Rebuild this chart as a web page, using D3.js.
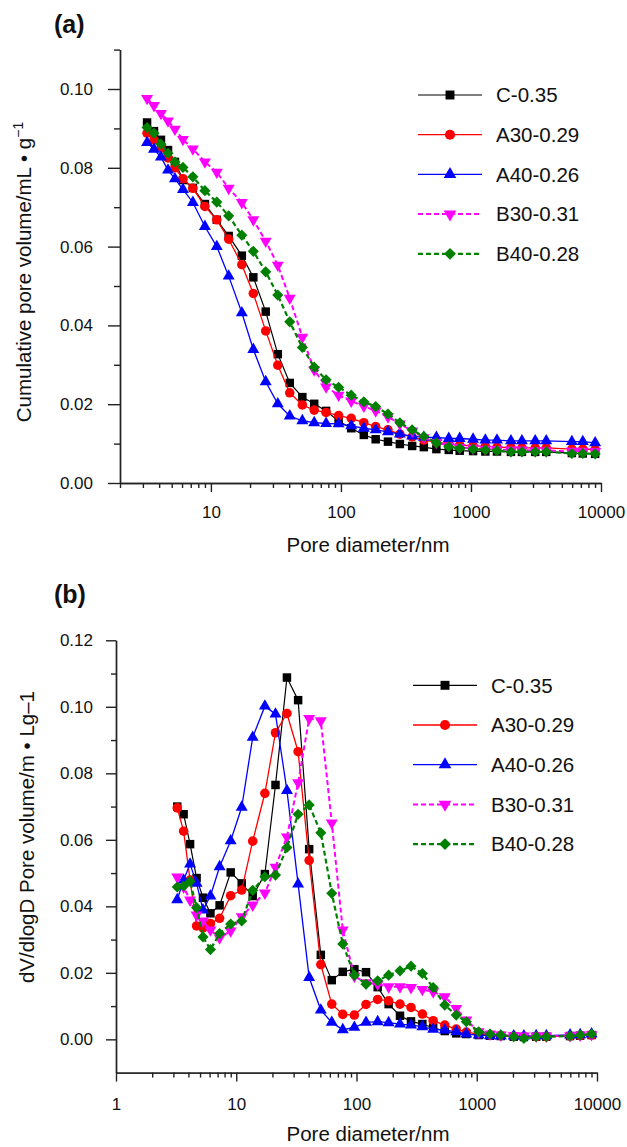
<!DOCTYPE html>
<html>
<head>
<meta charset="utf-8">
<script src="https://cdn.jsdelivr.net/npm/d3@7/dist/d3.min.js"></script>
<style>
  html, body { margin: 0; padding: 0; background: #fff; }
  svg { display: block; font-family: "Liberation Sans", Arial, Helvetica, sans-serif; }
  .axis path, .axis line { stroke: #222; stroke-width: 1.4; }
  .axis text { font-size: 17px; fill: #111; }
</style>
</head>
<body>
<div id="root"></div>
<script>
// pore diameters (nm), same intrusion steps for both panels
const diam = [3.23, 3.65, 4.13, 4.68, 5.29, 6.10, 7.27, 8.99, 11.1, 13.7, 17.3, 21.2, 26.4, 32.7, 40.4,
  50.5, 62.3, 76.9, 96, 120, 150, 185, 230, 284, 353, 434, 542, 675, 819, 1038, 1290, 1585, 2030,
  2466, 3120, 3793, 5970, 7244, 9016];

const seriesNames = ['C-0.35', 'A30-0.29', 'A40-0.26', 'B30-0.31', 'B40-0.28'];

// (a) cumulative pore volume, mL/g
const cumC   = [0.0915,0.0893,0.0871,0.0845,0.0815,0.0769,0.0749,0.0708,0.0668,0.0627,0.0577,0.0522,0.0435,0.0327,0.0254,0.0218,0.0201,0.0183,0.0157,0.0139,0.0122,0.0111,0.0105,0.0099,0.0094,0.0091,0.0086,0.0084,0.0082,0.0081,0.0080,0.0080,0.0079,0.0079,0.0079,0.0079,0.0076,0.0075,0.0074];
const cumA30 = [0.0888,0.0871,0.0850,0.0825,0.0800,0.0772,0.0748,0.0702,0.0668,0.0619,0.0554,0.0481,0.0386,0.0299,0.0229,0.0198,0.0185,0.0179,0.0171,0.0164,0.0153,0.0143,0.0135,0.0124,0.0117,0.0109,0.0104,0.0099,0.0096,0.0094,0.0093,0.0091,0.0090,0.0089,0.0089,0.0089,0.0086,0.0086,0.0085];
const cumA40 = [0.0864,0.0847,0.0827,0.0794,0.0772,0.0745,0.0712,0.0651,0.0600,0.0525,0.0432,0.0339,0.0257,0.0201,0.0170,0.0158,0.0153,0.0151,0.0150,0.0145,0.0139,0.0135,0.0130,0.0124,0.0119,0.0116,0.0116,0.0113,0.0113,0.0111,0.0109,0.0109,0.0107,0.0107,0.0107,0.0107,0.0105,0.0105,0.0102];
const cumB30 = [0.0976,0.0958,0.0938,0.0919,0.0898,0.0872,0.0848,0.0815,0.0789,0.0748,0.0712,0.0668,0.0614,0.0553,0.0469,0.0370,0.0287,0.0244,0.0223,0.0208,0.0195,0.0183,0.0168,0.0150,0.0132,0.0115,0.0103,0.0094,0.0090,0.0088,0.0086,0.0085,0.0084,0.0084,0.0082,0.0082,0.0081,0.0081,0.0080];
const cumB40 = [0.0902,0.0888,0.0860,0.0837,0.0815,0.0801,0.0777,0.0742,0.0713,0.0678,0.0629,0.0588,0.0536,0.0477,0.0409,0.0344,0.0294,0.0262,0.0243,0.0223,0.0206,0.0194,0.0175,0.0153,0.0135,0.0118,0.0102,0.0092,0.0088,0.0086,0.0084,0.0082,0.0079,0.0079,0.0079,0.0079,0.0075,0.0075,0.0074];

// (b) dV/dlogD
const psdC   = [0.0700,0.0677,0.0587,0.0485,0.0426,0.0379,0.0403,0.0502,0.0469,0.0431,0.0497,0.0765,0.1088,0.1020,0.0572,0.0254,0.0178,0.0203,0.0211,0.0202,0.0157,0.0106,0.0071,0.0054,0.0046,0.0035,0.0025,0.0018,0.0016,0.0013,0.0011,0.0010,0.0008,0.0007,0.0008,0.0008,0.0010,0.0011,0.0013];
const psdA30 = [0.0696,0.0626,0.0479,0.0341,0.0335,0.0348,0.0364,0.0432,0.0449,0.0596,0.0740,0.0922,0.0980,0.0865,0.0538,0.0225,0.0106,0.0075,0.0073,0.0105,0.0120,0.0116,0.0106,0.0096,0.0076,0.0056,0.0043,0.0031,0.0022,0.0016,0.0013,0.0011,0.0010,0.0008,0.0008,0.0008,0.0010,0.0011,0.0013];
const psdA40 = [0.0420,0.0479,0.0527,0.0469,0.0389,0.0431,0.0519,0.0597,0.0698,0.0908,0.1002,0.0978,0.0748,0.0467,0.0186,0.0088,0.0051,0.0029,0.0036,0.0051,0.0053,0.0050,0.0046,0.0043,0.0038,0.0030,0.0028,0.0023,0.0016,0.0013,0.0011,0.0010,0.0010,0.0010,0.0011,0.0011,0.0013,0.0014,0.0016];
const psdB30 = [0.0488,0.0458,0.0419,0.0374,0.0356,0.0329,0.0305,0.0326,0.0369,0.0404,0.0440,0.0518,0.0609,0.0772,0.0965,0.0958,0.0651,0.0329,0.0190,0.0170,0.0166,0.0158,0.0158,0.0156,0.0150,0.0143,0.0128,0.0093,0.0058,0.0023,0.0016,0.0013,0.0011,0.0010,0.0010,0.0010,0.0011,0.0013,0.0014];
const psdB40 = [0.0458,0.0461,0.0475,0.0396,0.0308,0.0270,0.0318,0.0347,0.0356,0.0448,0.0489,0.0494,0.0577,0.0677,0.0705,0.0621,0.0439,0.0287,0.0193,0.0166,0.0176,0.0193,0.0206,0.0220,0.0198,0.0156,0.0103,0.0073,0.0053,0.0023,0.0016,0.0013,0.0008,0.0003,0.0008,0.0008,0.0010,0.0013,0.0016];

const yTicksA = [0.00, 0.02, 0.04, 0.06, 0.08, 0.10];
const yTicksB = [0.00, 0.02, 0.04, 0.06, 0.08, 0.10, 0.12];

// look of each series
const styles = [
  { color: '#000000', sym: d3.symbolSquare,   size: 72, rot: 0,   dash: null,  w: 1.2 },
  { color: '#ff0000', sym: d3.symbolCircle,   size: 72, rot: 0,   dash: null,  w: 1.3 },
  { color: '#0000ff', sym: d3.symbolTriangle, size: 62, rot: 0,   dash: null,  w: 1.3 },
  { color: '#ff00ff', sym: d3.symbolTriangle, size: 62, rot: 180, dash: '5,3', w: 2 },
  { color: '#008000', sym: d3.symbolSquare,   size: 62, rot: 45,  dash: '5,3', w: 2.2 }
];

const W = 627, H = 1147;
const svg = d3.select('#root').append('svg').attr('width', W).attr('height', H);

function minorLog(lo, hi) {
  const out = [];
  for (let p = 0; p <= 4; p++) for (let k = 2; k <= 9; k++) {
    const v = k * Math.pow(10, p);
    if (v >= lo && v <= hi) out.push(v);
  }
  return out;
}

function drawPanel(o) {
  const x = d3.scaleLog().domain(o.xDomain).range([o.left, o.right]);
  const y = d3.scaleLinear().domain(o.yDomain).range([o.bottom, o.top]);

  // minor ticks first, then majors with labels
  svg.append('g').attr('class', 'axis').attr('transform', `translate(${o.left},0)`)
    .call(d3.axisLeft(y).tickValues(o.yMinor).tickSize(o.yTick / 2).tickSizeOuter(0).tickFormat(''));
  svg.append('g').attr('class', 'axis').attr('transform', `translate(${o.left},0)`)
    .call(d3.axisLeft(y).tickValues(o.yTicks).tickSize(o.yTick).tickSizeOuter(0)
      .tickPadding(o.yPad).tickFormat(d3.format('.2f')));

  svg.append('g').attr('class', 'axis').attr('transform', `translate(0,${o.bottom})`)
    .call(d3.axisBottom(x).tickValues(minorLog(o.xDomain[0], o.xDomain[1])).tickSize(5).tickSizeOuter(0).tickFormat(''));
  svg.append('g').attr('class', 'axis').attr('transform', `translate(0,${o.bottom})`)
    .call(d3.axisBottom(x).tickValues(o.xTicks).tickSize(9).tickSizeOuter(0)
      .tickPadding(o.xPad).tickFormat(d3.format('d')));

  const line = d3.line().x(d => x(d[0])).y(d => y(d[1]));

  o.series.forEach((vals, i) => {
    const st = styles[i];
    const pts = diam.map((d, k) => [d, vals[k]]);
    const g = svg.append('g');
    g.append('path').datum(pts).attr('d', line)
      .attr('fill', 'none').attr('stroke', st.color).attr('stroke-width', st.w)
      .attr('stroke-dasharray', st.dash);
    g.selectAll('path.m').data(pts).join('path').attr('class', 'm')
      .attr('d', d3.symbol().type(st.sym).size(st.size))
      .attr('transform', d => `translate(${x(d[0])},${y(d[1])}) rotate(${st.rot})`)
      .attr('fill', st.color);
  });

  // legend
  seriesNames.forEach((name, i) => {
    const st = styles[i];
    const ly = o.legY + i * 39.7;
    svg.append('line').attr('x1', o.legX).attr('x2', o.legX + 64).attr('y1', ly).attr('y2', ly)
      .attr('stroke', st.color).attr('stroke-width', st.w).attr('stroke-dasharray', st.dash);
    svg.append('path').attr('d', d3.symbol().type(st.sym).size(st.size + 8))
      .attr('transform', `translate(${o.legX + 32},${ly}) rotate(${st.rot})`).attr('fill', st.color);
    svg.append('text').attr('x', o.legX + 78).attr('y', ly).attr('dy', '0.36em')
      .attr('font-size', 20.5).attr('fill', '#111').text(name);
  });

  svg.append('text').attr('x', 54).attr('y', o.tagY).attr('font-size', 25).attr('font-weight', 'bold')
    .attr('fill', '#111').text(o.tag);

  svg.append('text').attr('x', 368).attr('y', o.xTitleY).attr('text-anchor', 'middle')
    .attr('font-size', 20.5).attr('fill', '#111').text('Pore diameter/nm');

  const yt = svg.append('text').attr('transform', `translate(${o.yTitleX},${o.yTitleY}) rotate(-90)`)
    .attr('text-anchor', 'middle').attr('font-size', 20.5).attr('fill', '#111');
  yt.append('tspan').text(o.yTitle);
  if (o.ySup) yt.append('tspan').attr('dy', -8).attr('font-size', 14).text(o.ySup);
}

drawPanel({
  tag: '(a)', tagY: 33,
  xDomain: [2, 10000], left: 120, right: 601,
  yDomain: [0, 0.11], top: 49.6, bottom: 483,
  yTicks: yTicksA, yMinor: [0.01, 0.03, 0.05, 0.07, 0.09, 0.11], yTick: 12, yPad: 15,
  xTicks: [10, 100, 1000, 10000], xPad: 14,
  series: [cumC, cumA30, cumA40, cumB30, cumB40],
  legX: 418, legY: 95,
  xTitleY: 552,
  yTitle: 'Cumulative pore volume/mL • g', ySup: '−1', yTitleX: 31, yTitleY: 272
});

drawPanel({
  tag: '(b)', tagY: 603,
  xDomain: [1, 10000], left: 116, right: 597,
  yDomain: [-0.01, 0.12], top: 640.3, bottom: 1072.6,
  yTicks: yTicksB, yMinor: [0.01, 0.03, 0.05, 0.07, 0.09, 0.11], yTick: 10, yPad: 13,
  xTicks: [1, 10, 100, 1000, 10000], xPad: 16,
  series: [psdC, psdA30, psdA40, psdB30, psdB40],
  legX: 413, legY: 685.3,
  xTitleY: 1141,
  yTitle: 'dV/dlogD Pore volume/m • Lg–1', ySup: null, yTitleX: 34, yTitleY: 837
});
</script>
</body>
</html>
